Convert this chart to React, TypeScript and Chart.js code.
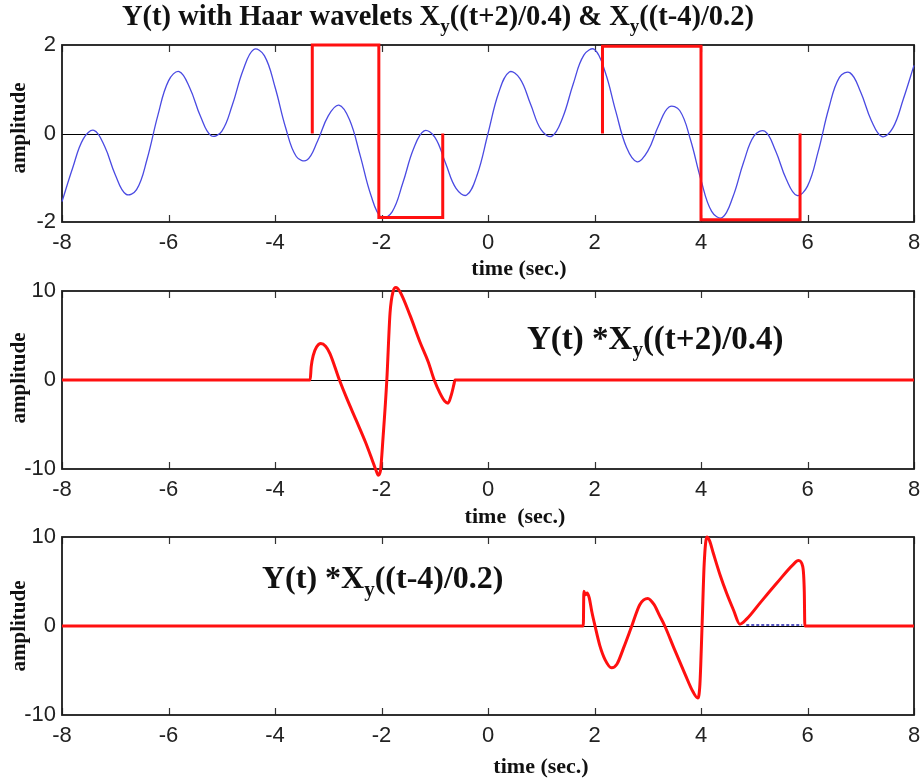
import React, { useEffect, useRef } from 'react';
import { Chart, registerables } from 'chart.js';
Chart.register(...registerables);

const xTickValues = [-8, -6, -4, -2, 0, 2, 4, 6, 8];

// Y(t)
const signalT = [-8.0, -7.8, -7.6, -7.4, -7.2, -7.0, -6.8, -6.6, -6.4, -6.2, -6.0, -5.8, -5.6, -5.4, -5.2, -5.0, -4.8, -4.6, -4.4, -4.2, -4.0, -3.8, -3.6, -3.4, -3.2, -3.0, -2.8, -2.6, -2.4, -2.2, -2.0, -1.8, -1.6, -1.4, -1.2, -1.0, -0.8, -0.6, -0.4, -0.2, 0.0, 0.2, 0.4, 0.6, 0.8, 1.0, 1.2, 1.4, 1.6, 1.8, 2.0, 2.2, 2.4, 2.6, 2.8, 3.0, 3.2, 3.4, 3.6, 3.8, 4.0, 4.2, 4.4, 4.6, 4.8, 5.0, 5.2, 5.4, 5.6, 5.8, 6.0, 6.2, 6.4, 6.6, 6.8, 7.0, 7.2, 7.4, 7.6, 7.8, 8.0];
const signalY = [-1.54, -0.78, -0.12, 0.07, -0.29, -0.93, -1.37, -1.27, -0.57, 0.41, 1.19, 1.40, 1.03, 0.39, -0.05, 0.05, 0.65, 1.43, 1.90, 1.76, 1.05, 0.13, -0.52, -0.60, -0.17, 0.40, 0.64, 0.31, -0.50, -1.39, -1.90, -1.77, -1.12, -0.35, 0.06, -0.08, -0.66, -1.24, -1.39, -0.92, 0.0, 0.92, 1.39, 1.24, 0.66, 0.08, -0.06, 0.35, 1.12, 1.77, 1.90, 1.39, 0.50, -0.31, -0.64, -0.40, 0.17, 0.60, 0.52, -0.13, -1.05, -1.76, -1.90, -1.43, -0.65, -0.05, 0.05, -0.39, -1.03, -1.40, -1.19, -0.41, 0.57, 1.27, 1.37, 0.93, 0.29, -0.07, 0.12, 0.78, 1.54];

// Haar wavelets drawn over Y(t)
const haar1T = [-3.3, -3.3, -2.05, -2.05, -0.85, -0.85];
const haar1Y = [0, 2, 2, -1.9, -1.9, 0];
const haar2T = [2.15, 2.15, 4.0, 4.0, 5.86, 5.86];
const haar2Y = [0, 1.97, 1.97, -1.95, -1.95, 0];

// Y(t) * Xy((t+2)/0.4)
const prod1T = [-8, -3.34, -3.32, -3.28, -3.22, -3.14, -3.05, -2.97, -2.79, -2.65, -2.47, -2.3, -2.18, -2.1, -2.06, -2.02, -1.97, -1.9, -1.84, -1.78, -1.73, -1.65, -1.46, -1.28, -1.12, -1.01, -0.9, -0.81, -0.75, -0.69, -0.64, -0.62, 8];
const prod1Y = [0, 0, 1.5, 2.8, 3.7, 4.1, 3.8, 3.0, 0, -2.1, -4.6, -7.0, -8.9, -10.2, -10.7, -10.2, -6.4, 0, 7.5, 10.0, 10.4, 9.9, 7.2, 4.3, 2.0, 0, -1.5, -2.4, -2.6, -1.7, -0.5, 0, 0];

// Y(t) * Xy((t-4)/0.2)
const prod2T = [-8, 1.79, 1.8, 1.83, 1.86, 1.9, 1.95, 2.01, 2.1, 2.2, 2.32, 2.42, 2.55, 2.7, 2.85, 3.0, 3.12, 3.22, 3.32, 3.5, 3.7, 3.85, 3.94, 3.98, 4.02, 4.06, 4.11, 4.16, 4.23, 4.36, 4.48, 4.61, 4.73, 4.86, 5.11, 5.42, 5.73, 5.83, 5.91, 5.94, 5.95, 8];
const prod2Y = [0, 0, 3.9, 3.5, 3.7, 3.2, 1.6, 0, -2.2, -3.8, -4.7, -4.3, -2.4, 0, 2.4, 3.1, 2.4, 1.2, 0, -2.6, -5.4, -7.4, -8.1, -6.5, 0, 7.0, 10.0, 9.6, 8.2, 5.7, 3.7, 1.8, 0.2, 0.8, 2.6, 4.8, 6.9, 7.35, 6.7, 3.8, 0, 0];
const blueT = [4.85, 5.9];
const blueY = [0.1, 0.1];

const pts = (xs: number[], ys: number[]) => xs.map((x, i) => ({ x, y: ys[i] }));

type Part = { t: string; sub?: boolean };
type TextItem = { parts: Part[]; x: number; y: number; size: number; align?: 'left' | 'center'; rotate?: boolean };

const SERIF = "'Liberation Serif', 'Times New Roman', serif";

function drawRich(ctx: CanvasRenderingContext2D, item: TextItem) {
  const { parts, size } = item;
  const subSize = Math.round(size * 0.65);
  const widths = parts.map((p) => {
    ctx.font = `bold ${p.sub ? subSize : size}px ${SERIF}`;
    return ctx.measureText(p.t).width;
  });
  const total = widths.reduce((a, b) => a + b, 0);
  ctx.save();
  ctx.translate(item.x, item.y);
  if (item.rotate) ctx.rotate(-Math.PI / 2);
  let cx = item.align === 'center' ? -total / 2 : 0;
  ctx.fillStyle = '#111';
  ctx.textBaseline = 'middle';
  parts.forEach((p, i) => {
    ctx.font = `bold ${p.sub ? subSize : size}px ${SERIF}`;
    ctx.fillText(p.t, cx, p.sub ? size * 0.32 : 0);
    cx += widths[i];
  });
  ctx.restore();
}

function makePlugin(texts: TextItem[]) {
  return {
    id: 'matlabFrame',
    beforeDatasetsDraw(chart: any) {
      const { ctx, chartArea, scales } = chart;
      const { left, right, top, bottom } = chartArea;
      ctx.save();
      const y0 = Math.round(scales.y.getPixelForValue(0)) + 0.5;
      ctx.strokeStyle = '#000';
      ctx.lineWidth = 1;
      ctx.beginPath();
      ctx.moveTo(left, y0);
      ctx.lineTo(right, y0);
      ctx.stroke();
      ctx.strokeStyle = '#333';
      ctx.lineWidth = 1.2;
      for (const v of xTickValues) {
        const px = Math.round(scales.x.getPixelForValue(v)) + 0.5;
        ctx.beginPath();
        ctx.moveTo(px, top);
        ctx.lineTo(px, top + 7);
        ctx.moveTo(px, bottom);
        ctx.lineTo(px, bottom - 7);
        ctx.stroke();
      }
      ctx.strokeStyle = '#1a1a1a';
      ctx.lineWidth = 1.8;
      ctx.strokeRect(left, top, right - left, bottom - top);
      ctx.restore();
    },
    afterDraw(chart: any) {
      const ctx = chart.ctx;
      texts.forEach((t) => drawRich(ctx, t));
    },
  };
}

type Panel = {
  top: number;
  bottom: number;
  yMin: number;
  yMax: number;
  yStep: number;
  datasets: any[];
  texts: TextItem[];
};

const W = 924;
const H = 778;
const LEFT = 62;
const RIGHT = 914;

const red = '#ff1010';
const blue = '#4a4ae2';

const panels: Panel[] = [
  {
    top: 45,
    bottom: 222,
    yMin: -2,
    yMax: 2,
    yStep: 2,
    datasets: [
      { data: pts(haar1T, haar1Y), borderColor: red, borderWidth: 3, tension: 0 },
      { data: pts(haar2T, haar2Y), borderColor: red, borderWidth: 3, tension: 0 },
      { data: pts(signalT, signalY), borderColor: blue, borderWidth: 1.3, tension: 0.4 },
    ],
    texts: [
      {
        parts: [
          { t: 'Y(t) with Haar wavelets X' },
          { t: 'y', sub: true },
          { t: '((t+2)/0.4) & X' },
          { t: 'y', sub: true },
          { t: '((t-4)/0.2)' },
        ],
        x: 122,
        y: 18,
        size: 28.5,
      },
      { parts: [{ t: 'time (sec.)' }], x: 519, y: 269, size: 22, align: 'center' },
      { parts: [{ t: 'amplitude' }], x: 20, y: 128, size: 21, align: 'center', rotate: true },
    ],
  },
  {
    top: 291,
    bottom: 469,
    yMin: -10,
    yMax: 10,
    yStep: 10,
    datasets: [
      { data: pts(prod1T, prod1Y), borderColor: red, borderWidth: 3, cubicInterpolationMode: 'monotone' },
    ],
    texts: [
      { parts: [{ t: 'Y(t) *X' }, { t: 'y', sub: true }, { t: '((t+2)/0.4)' }], x: 527, y: 340, size: 33 },
      { parts: [{ t: 'time  (sec.)' }], x: 515, y: 517, size: 22, align: 'center' },
      { parts: [{ t: 'amplitude' }], x: 20, y: 378, size: 21, align: 'center', rotate: true },
    ],
  },
  {
    top: 537,
    bottom: 715,
    yMin: -10,
    yMax: 10,
    yStep: 10,
    datasets: [
      { data: pts(prod2T, prod2Y), borderColor: red, borderWidth: 3, cubicInterpolationMode: 'monotone' },
      { data: pts(blueT, blueY), borderColor: '#2020b0', borderWidth: 1.5, borderDash: [3, 2], tension: 0 },
    ],
    texts: [
      { parts: [{ t: 'Y(t) *X' }, { t: 'y', sub: true }, { t: '((t-4)/0.2)' }], x: 262, y: 580, size: 32 },
      { parts: [{ t: 'time (sec.)' }], x: 541, y: 767, size: 22, align: 'center' },
      { parts: [{ t: 'amplitude' }], x: 20, y: 626, size: 21, align: 'center', rotate: true },
    ],
  },
];

function PanelChart({ panel }: { panel: Panel }) {
  const ref = useRef<HTMLCanvasElement | null>(null);
  useEffect(() => {
    if (!ref.current) return;
    const xAxisH = 40;
    const tickFont = { family: "'Liberation Sans', Arial, sans-serif", size: 22 };
    const chart = new Chart(ref.current, {
      type: 'line',
      data: {
        datasets: panel.datasets.map((d) => ({
          ...d,
          pointRadius: 0,
          fill: false,
          clip: false,
        })),
      },
      options: {
        responsive: false,
        animation: false,
        events: [],
        layout: {
          padding: { left: 0, right: W - RIGHT, top: panel.top, bottom: H - panel.bottom - xAxisH },
        },
        plugins: { legend: { display: false }, tooltip: { enabled: false }, title: { display: false } },
        scales: {
          x: {
            type: 'linear',
            min: -8,
            max: 8,
            grid: { display: false, drawTicks: false },
            border: { display: false },
            ticks: {
              stepSize: 2,
              padding: 8,
              color: '#222',
              font: tickFont,
              maxRotation: 0,
              autoSkip: false,
            },
            afterFit: (s: any) => {
              s.height = xAxisH;
              s.paddingLeft = 0;
              s.paddingRight = 0;
            },
          },
          y: {
            type: 'linear',
            min: panel.yMin,
            max: panel.yMax,
            grid: { display: false, drawTicks: false },
            border: { display: false },
            ticks: {
              stepSize: panel.yStep,
              padding: 6,
              color: '#222',
              font: tickFont,
            },
            afterFit: (s: any) => {
              s.width = LEFT;
              s.paddingTop = 0;
              s.paddingBottom = 0;
            },
          },
        },
      },
      plugins: [makePlugin(panel.texts)],
    } as any);
    return () => chart.destroy();
  }, [panel]);
  return (
    <canvas
      ref={ref}
      width={W}
      height={H}
      style={{ position: 'absolute', left: 0, top: 0, width: W, height: H, display: 'block' }}
    />
  );
}

export default function App() {
  return (
    <div style={{ position: 'fixed', left: 0, top: 0, width: W, height: H, background: '#fff', overflow: 'hidden' }}>
      {panels.map((p, i) => (
        <PanelChart key={i} panel={p} />
      ))}
    </div>
  );
}
